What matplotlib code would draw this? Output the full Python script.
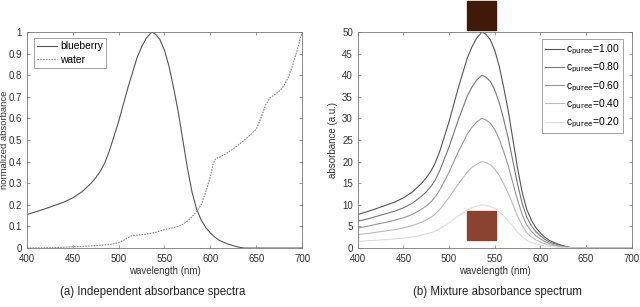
import matplotlib.pyplot as plt
from matplotlib.patches import Rectangle

plt.rcParams['font.family'] = ['Liberation Sans', 'DejaVu Sans']

# normalized spectra (left panel)
wl_b = [400, 410, 420, 430, 440, 450, 460, 470, 475, 480, 485, 490, 500, 510, 520, 525,
        530, 536, 540, 545, 550, 555, 560, 565, 570, 575, 580, 585, 590, 595, 600, 605,
        610, 620, 630, 637, 700]
blueberry = [0.155, 0.168, 0.182, 0.197, 0.212, 0.232, 0.26, 0.3, 0.325, 0.355, 0.395, 0.45,
             0.585, 0.74, 0.88, 0.93, 0.97, 1.0, 0.99, 0.965, 0.915, 0.84, 0.74, 0.63, 0.5,
             0.37, 0.26, 0.18, 0.13, 0.095, 0.07, 0.05, 0.035, 0.017, 0.005, 0.0, 0.0]

wl_w = [400, 430, 450, 470, 490, 500, 505, 510, 515, 520, 530, 540, 550, 560, 565, 570, 575,
        580, 585, 590, 595, 600, 603, 606, 610, 620, 630, 640, 650, 655, 660, 665, 670, 675,
        680, 685, 690, 695, 700]
water = [0.0, 0.002, 0.006, 0.01, 0.016, 0.025, 0.035, 0.048, 0.058, 0.06, 0.064, 0.072,
         0.085, 0.095, 0.1, 0.11, 0.125, 0.145, 0.168, 0.2, 0.26, 0.33, 0.39, 0.415, 0.42,
         0.445, 0.475, 0.51, 0.55, 0.6, 0.66, 0.695, 0.71, 0.725, 0.75, 0.79, 0.85, 0.92, 1.0]

# mixture spectra (right panel), same wavelengths as wl_b
mix_100 = [7.75, 8.4, 9.1, 9.85, 10.6, 11.6, 13.0, 15.0, 16.25, 17.75, 19.75, 22.5, 29.25, 37.0,
           44.0, 46.5, 48.5, 50.0, 49.5, 48.25, 45.75, 42.0, 37.0, 31.5, 25.0, 18.5, 13.0, 9.0,
           6.5, 4.75, 3.5, 2.5, 1.75, 0.85, 0.25, 0, 0]
mix_080 = [6.2, 6.7, 7.3, 7.9, 8.5, 9.3, 10.4, 12.0, 13.0, 14.2, 15.8, 18.0, 23.4, 29.6, 35.2,
           37.2, 38.8, 40.0, 39.6, 38.6, 36.6, 33.6, 29.6, 25.2, 20.0, 14.8, 10.4, 7.2, 5.2, 3.8,
           2.8, 2.0, 1.4, 0.7, 0.2, 0, 0]
mix_060 = [4.65, 5.0, 5.5, 5.9, 6.4, 7.0, 7.8, 9.0, 9.75, 10.65, 11.85, 13.5, 17.55, 22.2, 26.4,
           27.9, 29.1, 30.0, 29.7, 28.95, 27.45, 25.2, 22.2, 18.9, 15.0, 11.1, 7.8, 5.4, 3.9,
           2.85, 2.1, 1.5, 1.05, 0.5, 0.15, 0, 0]
mix_040 = [3.1, 3.35, 3.65, 3.95, 4.25, 4.65, 5.2, 6.0, 6.5, 7.1, 7.9, 9.0, 11.7, 14.8, 17.6,
           18.6, 19.4, 20.0, 19.8, 19.3, 18.3, 16.8, 14.8, 12.6, 10.0, 7.4, 5.2, 3.6, 2.6, 1.9,
           1.4, 1.0, 0.7, 0.35, 0.1, 0, 0]
mix_020 = [1.55, 1.7, 1.8, 1.95, 2.1, 2.3, 2.6, 3.0, 3.25, 3.55, 3.95, 4.5, 5.85, 7.4, 8.8, 9.3,
           9.7, 10.0, 9.9, 9.65, 9.15, 8.4, 7.4, 6.3, 5.0, 3.7, 2.6, 1.8, 1.3, 0.95, 0.7, 0.5,
           0.35, 0.17, 0.05, 0, 0]
mix_labels = ['1.00', '0.80', '0.60', '0.40', '0.20']
mix_colors = ['#555555', '#777777', '#999999', '#bbbbbb', '#dddddd']

fig = plt.figure(figsize=(6.4, 3.07), dpi=100)
ax1 = fig.add_axes([0.042, 0.192, 0.430, 0.704])
ax2 = fig.add_axes([0.559, 0.192, 0.428, 0.704])


def style(ax):
    for s in ax.spines.values():
        s.set_color('#777777')
        s.set_linewidth(0.6)
    ax.tick_params(direction='in', top=True, right=True, labelsize=7, length=2.5,
                   width=0.5, color='#777777', labelcolor='#333333')
    ax.tick_params(axis='x', pad=4)
    ax.tick_params(axis='y', pad=3.5)
    ax.set_xlim(400, 700)
    ax.set_xticks(range(400, 701, 50))
    ax.set_xlabel('wavelength (nm)', fontsize=7, color='#333333', labelpad=2)


ax1.plot(wl_b, blueberry, color='#555555', lw=0.8, label='blueberry')
ax1.plot(wl_w, water, color='#888888', lw=0.8, ls=(0, (1.5, 1)), label='water')
style(ax1)
ax1.set_ylim(0, 1)
ax1.set_yticks([i / 10 for i in range(11)])
ax1.set_yticklabels(['0'] + ['0.%d' % i for i in range(1, 10)] + ['1'])
ax1.set_ylabel('normalized absorbance', fontsize=6.8, color='#333333', va='center')
ax1.yaxis.set_label_coords(-0.08, 0.5)
ax1.legend(loc='upper left', bbox_to_anchor=(0.025, 0.97), fontsize=7.4, frameon=True,
           fancybox=False, edgecolor='#777777', handlelength=2.0, borderpad=0.3,
           labelspacing=0.3, handletextpad=0.3, borderaxespad=0).get_frame().set_linewidth(0.6)

for vals, lab, col in zip([mix_100, mix_080, mix_060, mix_040, mix_020], mix_labels, mix_colors):
    ax2.plot(wl_b, vals, color=col, lw=0.8, label=r'c$_{\mathrm{puree}}$=' + lab)
style(ax2)
ax2.set_ylim(0, 50)
ax2.set_yticks(range(0, 51, 5))
ax2.set_ylabel('absorbance (a.u.)', fontsize=7, color='#333333', va='center')
ax2.yaxis.set_label_coords(-0.09, 0.5)
ax2.legend(loc='upper right', bbox_to_anchor=(0.967, 0.965), fontsize=7.4, frameon=True,
           fancybox=False, edgecolor='#777777', handlelength=1.8, borderpad=0.3,
           labelspacing=0.38, handletextpad=0.2, borderaxespad=0).get_frame().set_linewidth(0.6)

# colour swatches of the mixtures
ax2.add_patch(Rectangle((520, 50.5), 31, 6.7, color='#3f1a08', clip_on=False))
ax2.add_patch(Rectangle((520, 1.85), 31, 6.7, color='#8a4330', clip_on=False))

fig.text(0.238, 0.049, '(a) Independent absorbance spectra', ha='center', va='center',
         fontsize=8.3, color='#222222')
fig.text(0.777, 0.049, '(b) Mixture absorbance spectrum', ha='center', va='center',
         fontsize=8.3, color='#222222')

fig.savefig('out.png', dpi=100)
